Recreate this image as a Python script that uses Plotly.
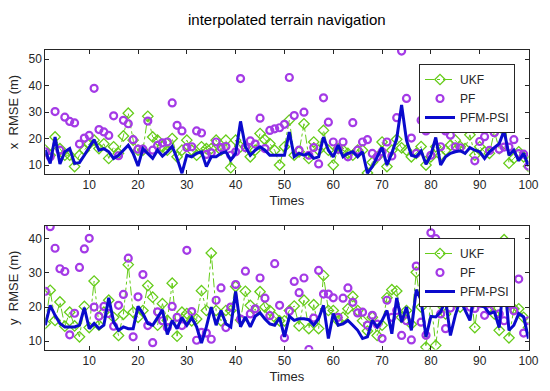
import plotly.graph_objects as go

t = list(range(1, 101))

x_ukf = [15.6, 13.7, 20.6, 16.2, 13.7, 13.7, 9.4, 13.7, 15.6, 18.0,
         19.4, 16.2, 18.0, 12.5, 16.9, 14.4, 21.0, 29.6, 19.4, 15.6,
         15.6, 28.4, 20.6, 19.4, 16.9, 15.6, 20.0, 13.1, 15.6, 19.4,
         15.6, 13.7, 16.9, 16.2, 16.2, 19.4, 15.6, 19.4, 9.0, 19.4,
         16.9, 16.9, 13.1, 15.6, 21.9, 19.6, 18.1, 15.6, 10.0, 16.9,
         27.0, 13.7, 15.0, 25.6, 12.5, 18.7, 15.6, 23.1, 15.6, 10.0,
         16.2, 15.6, 14.4, 13.7, 15.6, 15.6, 7.0, 11.0, 13.1, 18.7,
         9.4, 15.6, 19.7, 16.5, 15.6, 13.1, 14.4, 17.0, 10.0, 13.1,
         16.9, 13.7, 15.6, 17.5, 19.4, 17.0, 16.2, 21.4, 13.7, 16.9,
         15.0, 14.4, 22.6, 16.2, 30.5, 10.7, 12.5, 15.0, 13.1, 9.5]

x_pf = [15.0, 13.1, 30.2, 15.6, 28.1, 26.5, 25.9, 17.9, 20.2, 21.2,
        39.0, 23.4, 22.5, 21.2, 28.6, 13.5, 26.9, 25.6, 19.6, 16.0,
        16.0, 26.6, 15.6, 17.4, 18.4, 18.7, 33.5, 25.0, 22.9, 16.6,
        16.9, 22.9, 22.1, 14.0, 14.6, 18.7, 16.6, 17.0, 13.7, 15.0,
        42.7, 16.6, 19.1, 17.9, 27.7, 16.2, 23.1, 23.7, 24.1, 25.4,
        43.1, 28.7, 15.6, 30.0, 13.7, 16.6, 10.4, 35.4, 26.2, 18.7,
        16.0, 18.7, 13.1, 26.0, 15.6, 18.7, 19.6, 14.4, 13.1, 15.0,
        18.7, 13.4, 27.9, 53.1, 35.2, 20.2, 14.4, 26.9, 22.9, 13.7,
        36.3, 16.9, 22.9, 21.3, 16.9, 16.5, 27.8, 26.3, 11.6, 18.9,
        20.7, 15.5, 22.2, 16.0, 16.8, 16.8, 19.6, 14.3, 14.1, 9.6]

x_pfm = [15.6, 10.6, 20.6, 10.4, 15.0, 16.2, 10.6, 10.9, 13.7, 16.9,
         19.6, 15.6, 16.2, 15.0, 12.5, 13.7, 15.6, 17.5, 14.4, 9.6,
         16.2, 14.4, 12.5, 15.6, 13.4, 15.0, 17.1, 12.5, 6.9, 13.7,
         13.1, 14.4, 15.0, 9.4, 13.1, 13.1, 14.4, 15.0, 11.9, 14.4,
         26.5, 16.9, 13.7, 15.6, 16.9, 15.6, 13.7, 13.7, 13.7, 13.7,
         22.5, 13.1, 14.4, 13.7, 14.4, 12.5, 13.1, 20.6, 15.6, 13.1,
         17.5, 13.1, 14.4, 15.0, 13.1, 15.0, 6.9, 9.4, 13.1, 16.6,
         10.0, 14.5, 20.0, 32.7, 19.4, 13.7, 13.1, 15.3, 10.3, 13.7,
         20.4, 10.0, 13.1, 14.4, 15.0, 15.4, 14.4, 16.6, 15.6, 15.0,
         12.5, 15.0, 16.6, 18.1, 23.0, 13.7, 15.6, 11.6, 14.4, 9.6]

y_ukf = [15.2, 24.9, 16.1, 21.5, 14.4, 18.5, 14.5, 11.3, 20.2, 14.0,
         27.6, 14.7, 18.5, 22.0, 17.0, 11.7, 17.9, 32.4, 18.5, 17.0,
         19.0, 26.3, 22.9, 14.7, 21.0, 16.1, 27.0, 11.5, 18.5, 18.1,
         16.0, 16.5, 24.8, 19.0, 35.8, 19.0, 16.0, 19.0, 19.0, 26.0,
         16.2, 24.6, 20.5, 19.0, 24.5, 20.0, 19.0, 17.0, 16.0, 16.0,
         19.0, 20.3, 14.5, 22.0, 13.7, 20.7, 13.7, 29.2, 19.0, 19.0,
         16.0, 17.0, 19.5, 23.1, 19.0, 16.0, 13.0, 17.0, 11.7, 14.7,
         22.7, 25.1, 24.7, 17.0, 19.0, 15.0, 30.2, 20.0, 8.3, 21.9,
         8.8, 20.8, 18.0, 22.0, 24.1, 20.0, 22.0, 26.5, 14.0, 25.0,
         22.0, 20.0, 18.0, 13.2, 39.7, 11.0, 19.5, 19.5, 17.0, 14.0]

y_pf = [24.6, 43.5, 37.2, 31.2, 30.4, 11.9, 18.2, 31.6, 37.0, 40.1,
        20.0, 17.3, 20.2, 18.1, 14.4, 20.5, 23.7, 34.3, 11.3, 23.0,
        29.5, 14.6, 9.6, 18.6, 16.0, 14.0, 20.2, 17.0, 14.6, 36.6,
        18.7, 10.3, 12.6, 12.4, 10.6, 22.0, 25.6, 14.0, 20.0, 26.6,
        16.5, 30.5, 18.0, 19.5, 28.5, 22.6, 17.5, 32.7, 20.5, 11.0,
        18.8, 27.5, 24.2, 28.5, 7.6, 16.8, 30.7, 23.8, 23.8, 22.7,
        17.0, 22.6, 25.6, 21.4, 18.3, 18.5, 14.7, 17.6, 15.0, 10.8,
        22.0, 17.0, 19.0, 11.7, 16.0, 10.4, 32.0, 15.6, 11.8, 41.7,
        40.0, 18.0, 13.7, 19.7, 23.1, 24.7, 22.0, 20.0, 19.6, 21.0,
        17.6, 19.0, 24.4, 18.0, 16.0, 20.9, 18.9, 28.2, 12.4, 16.0]

y_pfm = [14.7, 20.5, 17.6, 15.2, 14.2, 14.2, 14.2, 14.7, 19.8, 13.7,
         15.2, 13.7, 14.7, 22.7, 15.6, 13.2, 14.2, 13.7, 13.7, 20.2,
         18.1, 15.2, 14.7, 16.9, 19.2, 12.0, 16.1, 13.7, 16.9, 14.7,
         16.9, 14.2, 9.5, 14.2, 20.0, 14.7, 19.0, 15.1, 14.2, 24.6,
         14.2, 17.1, 14.2, 17.3, 18.3, 16.5, 15.1, 14.7, 16.9, 11.3,
         17.3, 16.1, 16.6, 16.6, 16.3, 14.7, 16.6, 20.5, 10.8, 18.1,
         14.7, 15.1, 16.1, 14.7, 13.2, 10.8, 11.3, 16.1, 14.2, 16.1,
         19.0, 12.2, 22.7, 15.6, 20.0, 13.2, 25.1, 22.0, 11.3, 17.3,
         17.1, 18.6, 22.1, 11.7, 17.6, 22.1, 19.0, 16.1, 24.9, 20.5,
         20.0, 18.1, 18.6, 14.0, 29.0, 13.2, 14.7, 18.1, 17.1, 10.8]

x_ticks = [10, 20, 30, 40, 50, 60, 70, 80, 90, 100]
top_yticks = [10, 20, 30, 40, 50]
bot_yticks = [10, 20, 30, 40]

C_UKF = "#66CC1A"
C_PF = "#A43AE6"
C_PFM = "#0A0ACC"
FONT = "Arial, Liberation Sans, sans-serif"

fig = go.Figure()


def add_series(xa, ya, ukf, pf, pfm, legend):
    fig.add_trace(go.Scatter(x=t, y=ukf, name="UKF", mode="lines+markers",
                             line=dict(color=C_UKF, width=1, dash="dashdot"),
                             marker=dict(symbol="diamond-open", size=8, color=C_UKF,
                                         line=dict(width=1.3, color=C_UKF)),
                             xaxis=xa, yaxis=ya, legend=legend))
    fig.add_trace(go.Scatter(x=t, y=pf, name="PF", mode="markers",
                             marker=dict(symbol="circle-open", size=7, color=C_PF,
                                         line=dict(width=2.2, color=C_PF)),
                             xaxis=xa, yaxis=ya, legend=legend))
    fig.add_trace(go.Scatter(x=t, y=pfm, name="PFM-PSI", mode="lines",
                             line=dict(color=C_PFM, width=3),
                             xaxis=xa, yaxis=ya, legend=legend))


add_series("x", "y", x_ukf, x_pf, x_pfm, "legend")
add_series("x2", "y2", y_ukf, y_pf, y_pfm, "legend2")

W, H = 550, 391
xdom = [45.3 / W, 528.5 / W]

axis_common = dict(showline=True, linecolor="#262626", linewidth=1, mirror="ticks",
                   ticks="inside", ticklen=4, tickcolor="#262626", showgrid=False,
                   zeroline=False, tickfont=dict(family=FONT, size=12, color="#262626"),
                   automargin=False)

legend_common = dict(xanchor="right", yanchor="top",
                     bgcolor="white", bordercolor="#262626", borderwidth=1,
                     font=dict(family=FONT, size=12, color="#262626"),
                     itemwidth=30, tracegroupgap=0)

fig.update_layout(
    width=W, height=H,
    margin=dict(l=0, r=0, t=0, b=0),
    paper_bgcolor="white", plot_bgcolor="white",
    font=dict(family=FONT, color="#262626"),
    xaxis=dict(domain=xdom, range=[1, 100], tickvals=x_ticks, anchor="y",
               title=dict(text="Times", font=dict(size=13, color="#262626"), standoff=4),
               **axis_common),
    yaxis=dict(domain=[1 - 174 / H, 1 - 50 / H], range=[6.6, 53.5], tickvals=top_yticks,
               anchor="x",
               title=dict(text="x\u00a0\u00a0RMSE (m)", font=dict(size=13, color="#262626"),
                          standoff=6),
               **axis_common),
    xaxis2=dict(domain=xdom, range=[1, 100], tickvals=x_ticks, anchor="y2",
                title=dict(text="Times", font=dict(size=13, color="#262626"), standoff=4),
                **axis_common),
    yaxis2=dict(domain=[1 - 349.5 / H, 1 - 226 / H], range=[7.6, 43.7], tickvals=bot_yticks,
                anchor="x2",
                title=dict(text="y\u00a0\u00a0RMSE (m)", font=dict(size=13, color="#262626"),
                           standoff=6),
                **axis_common),
    legend=dict(x=515 / W, y=1 - 64 / H, **legend_common),
    legend2=dict(x=515 / W, y=1 - 238 / H, **legend_common),
    annotations=[dict(text="interpolated terrain navigation", x=287 / W, y=1 - 20 / H,
                      xref="paper", yref="paper", xanchor="center", yanchor="middle",
                      showarrow=False,
                      font=dict(family=FONT, size=15, color="#000000"))],
)

fig.write_html("out.html", config={"displayModeBar": False},
               post_script="document.body.style.margin='0';")
